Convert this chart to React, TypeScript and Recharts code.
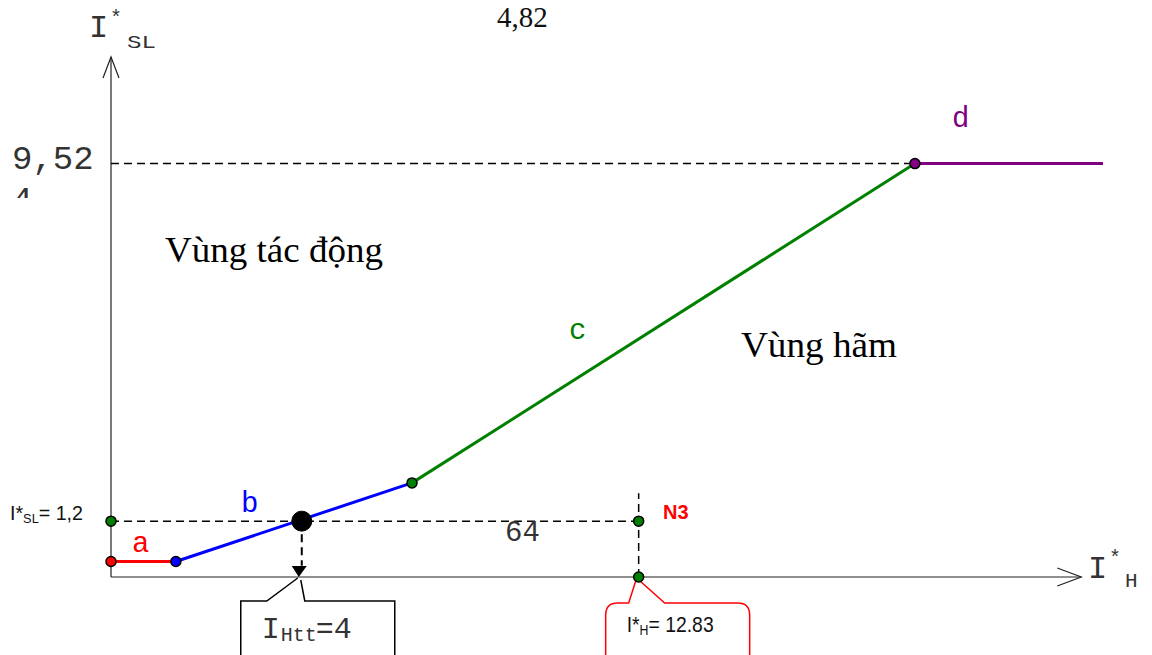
import React from 'react';
import {
  LineChart,
  Line,
  XAxis,
  YAxis,
  ReferenceLine,
  ReferenceDot,
} from 'recharts';

// Characteristic segments (I*H, I*SL)
const segmentA = [
  { x: -1, y: 0.26 },
  { x: 0.7, y: 0.26 },
];
const segmentB = [
  { x: 0.7, y: 0.26 },
  { x: 6.89, y: 2.09 },
];
const segmentC = [
  { x: 6.89, y: 2.09 },
  { x: 20.07, y: 9.52 },
];
const segmentD = [
  { x: 20.07, y: 9.52 },
  { x: 25, y: 9.52 },
];

// Operating point values
const iHtt = 4;
const iSLset = 1.2;
const iHN3 = 12.83;
const iSLmax = 9.52;
const n3Top = 1.85;

const xDomain = [-1, 25];
const yDomain = [-0.1, 12];
const xAxisEnd = 24.43;

const W = 1152;
const H = 655;

const mono = '"Liberation Mono", "Courier New", monospace';
const serif = '"Liberation Serif", "Times New Roman", serif';
const sans = '"Liberation Sans", Arial, sans-serif';

const AxisWithArrow = (props: any) => {
  const { x1, y1, x2, y2 } = props;
  const vertical = Math.abs(x1 - x2) < 1;
  const barbs = vertical
    ? `M${x2 - 8},${y2 + 21} L${x2},${y2} L${x2 + 8},${y2 + 21}`
    : `M${x2 - 24},${y2 - 9} L${x2},${y2} L${x2 - 24},${y2 + 9}`;
  return (
    <g>
      <line x1={x1} y1={y1} x2={x2} y2={y2} stroke="#222" strokeWidth={1.2} />
      <path d={barbs} fill="none" stroke="#222" strokeWidth={1.2} />
    </g>
  );
};

const DownArrowHead = (props: any) => {
  const { cx, cy } = props;
  return (
    <path
      d={`M${cx - 10},${cy - 11} L${cx + 5},${cy - 11} L${cx - 3},${cy} Z`}
      fill="#000"
    />
  );
};

const HttCallout = (props: any) => {
  const { cx, cy } = props;
  return (
    <g>
      <path
        d={`M${cx - 61},${cy + 85} L${cx - 61},${cy + 24} L${cx - 35},${cy + 24} L${cx - 4},${cy + 1}
            M${cx - 1},${cy + 3} L${cx + 3},${cy + 24} L${cx + 93},${cy + 24} L${cx + 93},${cy + 85}`}
        fill="none"
        stroke="#000"
        strokeWidth={1.5}
      />
      <text x={cx - 40} y={cy + 61} fontFamily={mono} fontSize={30} fill="#333">
        I
      </text>
      <text x={cx - 21} y={cy + 64} fontFamily={mono} fontSize={20} fill="#333">
        Htt
      </text>
      <text x={cx + 14} y={cy + 61} fontFamily={mono} fontSize={30} fill="#333">
        =4
      </text>
    </g>
  );
};

const N3Callout = (props: any) => {
  const { cx, cy } = props;
  return (
    <g>
      <path
        d={`M${cx - 33},${cy + 85} L${cx - 33},${cy + 38} Q${cx - 33},${cy + 26} ${cx - 21},${cy + 26}
            L${cx - 10},${cy + 26} L${cx - 2},${cy + 1} L${cx + 26},${cy + 26} L${cx + 99},${cy + 26}
            Q${cx + 111},${cy + 26} ${cx + 111},${cy + 38} L${cx + 111},${cy + 85}`}
        fill="none"
        stroke="#ff0000"
        strokeWidth={1.5}
      />
      <text
        x={cx - 12}
        y={cy + 55}
        fontFamily={sans}
        fontSize={22}
        fill="#111"
        textLength={87}
        lengthAdjust="spacingAndGlyphs"
      >
        I*
        <tspan fontSize={14} dy={3}>
          H
        </tspan>
        <tspan dy={-3}>= 12.83</tspan>
      </text>
    </g>
  );
};

const Labels = () => (
  <svg
    width={W}
    height={H}
    style={{ position: 'absolute', left: 0, top: 0, pointerEvents: 'none' }}
  >
    <defs>
      <clipPath id="cut4">
        <rect x={0} y={180} width={60} height={18} />
      </clipPath>
    </defs>
    <text x={497} y={27} fontFamily={serif} fontSize={29} fill="#111">
      4,82
    </text>

    {/* vertical axis title */}
    <text x={89} y={37} fontFamily={mono} fontSize={32} fill="#333">
      I
    </text>
    <text x={110} y={24} fontFamily={mono} fontSize={20} fill="#333">
      *
    </text>
    <text x={127} y={48} fontFamily={mono} fontSize={19} fill="#333" textLength={29} lengthAdjust="spacingAndGlyphs">
      SL
    </text>

    {/* horizontal axis title */}
    <text x={1088} y={578} fontFamily={mono} fontSize={32} fill="#333">
      I
    </text>
    <text x={1109} y={564} fontFamily={mono} fontSize={20} fill="#333">
      *
    </text>
    <text x={1125} y={587} fontFamily={mono} fontSize={21} fill="#333">
      H
    </text>

    <text x={12} y={169} fontFamily={mono} fontSize={34} fill="#333">
      9,52
    </text>
    <text x={12} y={210} fontFamily={mono} fontSize={34} fill="#333" clipPath="url(#cut4)">
      4
    </text>

    <text x={165} y={262} fontFamily={serif} fontSize={36} fill="#000" textLength={218} lengthAdjust="spacingAndGlyphs">
      Vùng tác động
    </text>
    <text x={741} y={357} fontFamily={serif} fontSize={36} fill="#000" textLength={156} lengthAdjust="spacingAndGlyphs">
      Vùng hãm
    </text>

    <text x={132} y={552} fontFamily={mono} fontSize={29} fill="#ff0000">
      a
    </text>
    <text x={241} y={512} fontFamily={mono} fontSize={29} fill="#0000ff">
      b
    </text>
    <text x={569} y={339} fontFamily={mono} fontSize={29} fill="#008000">
      c
    </text>
    <text x={952} y={127} fontFamily={mono} fontSize={29} fill="#800080">
      d
    </text>

    <text
      x={10}
      y={520}
      fontFamily={sans}
      fontSize={20}
      fill="#111"
      textLength={73}
      lengthAdjust="spacingAndGlyphs"
    >
      I*
      <tspan fontSize={13} dy={3}>
        SL
      </tspan>
      <tspan dy={-3}>= 1,2</tspan>
    </text>
    <text x={505} y={541} fontFamily={mono} fontSize={29} fill="#333">
      64
    </text>
    <text x={663} y={519} fontFamily={sans} fontSize={20} fontWeight="bold" fill="#ff0000">
      N3
    </text>
  </svg>
);

const dash = '8 5';

const App: React.FC = () => {
  return (
    <div style={{ position: 'absolute', left: 0, top: 0, width: W, height: H, background: '#fff' }}>
      <LineChart
        width={W}
        height={H}
        margin={{ top: 57, right: 49, bottom: 78, left: 111 }}
      >
        <XAxis type="number" dataKey="x" domain={xDomain} allowDataOverflow hide />
        <YAxis type="number" dataKey="y" domain={yDomain} allowDataOverflow hide />

        {/* axes */}
        <ReferenceLine
          segment={[
            { x: xDomain[0], y: yDomain[0] },
            { x: xDomain[0], y: yDomain[1] },
          ]}
          ifOverflow="visible"
          shape={AxisWithArrow}
        />
        <ReferenceLine
          segment={[
            { x: xDomain[0], y: yDomain[0] },
            { x: xAxisEnd, y: yDomain[0] },
          ]}
          ifOverflow="visible"
          shape={AxisWithArrow}
        />

        {/* guide lines */}
        <ReferenceLine
          segment={[
            { x: xDomain[0], y: iSLmax },
            { x: segmentC[1].x, y: iSLmax },
          ]}
          stroke="#000"
          strokeWidth={1.5}
          strokeDasharray={dash}
          ifOverflow="visible"
        />
        <ReferenceLine
          segment={[
            { x: xDomain[0], y: iSLset },
            { x: iHN3, y: iSLset },
          ]}
          stroke="#000"
          strokeWidth={1.5}
          strokeDasharray={dash}
          ifOverflow="visible"
        />
        <ReferenceLine
          segment={[
            { x: iHN3, y: yDomain[0] },
            { x: iHN3, y: n3Top },
          ]}
          stroke="#000"
          strokeWidth={1.5}
          strokeDasharray={dash}
          ifOverflow="visible"
        />
        <ReferenceLine
          segment={[
            { x: iHtt, y: iSLset },
            { x: iHtt, y: 0.16 },
          ]}
          stroke="#000"
          strokeWidth={2}
          strokeDasharray={dash}
          ifOverflow="visible"
        />

        <Line data={segmentA} dataKey="y" stroke="#ff0000" strokeWidth={3} dot={false} isAnimationActive={false} />
        <Line data={segmentB} dataKey="y" stroke="#0000ff" strokeWidth={3} dot={false} isAnimationActive={false} />
        <Line data={segmentC} dataKey="y" stroke="#008000" strokeWidth={3} dot={false} isAnimationActive={false} />
        <Line data={segmentD} dataKey="y" stroke="#800080" strokeWidth={3} dot={false} isAnimationActive={false} />

        <ReferenceDot x={iHtt} y={yDomain[0]} ifOverflow="visible" shape={DownArrowHead} />
        <ReferenceDot x={iHtt} y={yDomain[0]} ifOverflow="visible" shape={HttCallout} />
        <ReferenceDot x={iHN3} y={yDomain[0]} ifOverflow="visible" shape={N3Callout} />

        <ReferenceDot x={segmentA[0].x} y={segmentA[0].y} r={5} fill="#ff0000" stroke="#000" strokeWidth={1.5} ifOverflow="visible" />
        <ReferenceDot x={segmentB[0].x} y={segmentB[0].y} r={5} fill="#0000ff" stroke="#000" strokeWidth={1.5} ifOverflow="visible" />
        <ReferenceDot x={segmentC[0].x} y={segmentC[0].y} r={5} fill="#008000" stroke="#000" strokeWidth={1.5} ifOverflow="visible" />
        <ReferenceDot x={segmentD[0].x} y={segmentD[0].y} r={5} fill="#800080" stroke="#000" strokeWidth={1.5} ifOverflow="visible" />
        <ReferenceDot x={xDomain[0]} y={iSLset} r={5} fill="#008000" stroke="#000" strokeWidth={1.5} ifOverflow="visible" />
        <ReferenceDot x={iHN3} y={iSLset} r={5} fill="#008000" stroke="#000" strokeWidth={1.5} ifOverflow="visible" />
        <ReferenceDot x={iHN3} y={yDomain[0]} r={5} fill="#008000" stroke="#000" strokeWidth={1.5} ifOverflow="visible" />
        <ReferenceDot x={iHtt} y={iSLset} r={10} fill="#000" stroke="#000" strokeWidth={1} ifOverflow="visible" />
      </LineChart>
      <Labels />
    </div>
  );
};

export default App;
